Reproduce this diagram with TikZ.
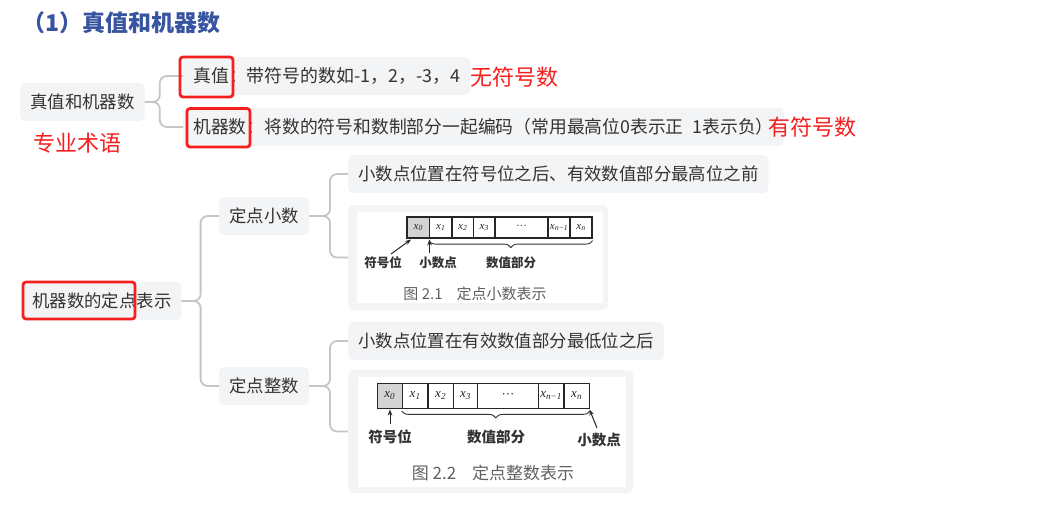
\documentclass[tikz,border=0pt]{standalone}
\usepackage{fontspec}
\setmainfont{Noto Sans CJK SC}
\newfontfamily\serifx{Liberation Serif}
\usetikzlibrary{decorations.pathreplacing,arrows.meta}
\definecolor{boxgray}{RGB}{243,244,246}
\definecolor{lgray}{RGB}{198,198,198}
\definecolor{txt}{RGB}{51,51,51}
\definecolor{redc}{RGB}{245,32,30}
\definecolor{titleblue}{RGB}{56,84,160}
\definecolor{cellgray}{RGB}{212,212,212}
\newcommand{\xsub}[1]{{\serifx\itshape x\textsubscript{#1}}}
\tikzset{
 mmbox/.style={fill=boxgray, rounded corners=5pt, inner xsep=10pt, inner ysep=0pt, minimum height=38pt, text=txt, font=\fontsize{17.4}{20}\selectfont, anchor=west},
 conn/.style={draw=lgray, line width=1.8pt, rounded corners=7pt},
 redframe/.style={draw=redc, line width=2.8pt, rounded corners=3pt},
 redlabel/.style={text=redc, font=\fontsize{22}{26}\selectfont, inner sep=0pt},
 figframe/.style={fill=boxgray, rounded corners=6pt, anchor=west, inner sep=0pt},
 cell/.style={draw=black!85, line width=1.2pt, inner sep=0pt, text=black!85},
 flabel/.style={text=black!80, inner sep=0pt},
 fcap/.style={text=black!62, inner sep=0pt},
 farrow/.style={-{Stealth[length=6pt,width=4.5pt]}, line width=1pt, draw=black!85},
 fbrace/.style={decorate, decoration={brace, mirror, amplitude=7pt}, line width=0.9pt, draw=black!80}
}
\begin{document}
\begin{tikzpicture}[x=1pt,y=-1pt]
\useasboundingbox[fill=white] (0,0) rectangle (1057,507);

% title
\node[anchor=west, inner sep=0pt, text=titleblue, font=\fontsize{23}{27}\selectfont\bfseries] (title) at (22,23) {（1）真值和机器数};

% first tree
\node[mmbox] (root1) at (20,102) {真值和机器数};
\node[mmbox, font=\fontsize{17.9}{20}\selectfont] (tv) at (183,76) {真值：带符号的数如-1，2，-3，4};
\node[mmbox, font=\fontsize{17.8}{20}\selectfont] (jq) at (183,127) {机器数：将数的符号和数制部分一起编码（常用最高位0表示正\hspace{9pt}1表示负）};
\draw[conn] (root1.east) -- ++(15,0) |- (tv.west);
\draw[conn] (root1.east) -- ++(15,0) |- (jq.west);

% second tree
\node[mmbox] (root2) at (22,301) {机器数的定点表示};
\node[mmbox] (dx) at (219,216) {定点小数};
\node[mmbox] (dz) at (219,386) {定点整数};
\node[mmbox] (t1) at (348,174) {小数点位置在符号位之后、有效数值部分最高位之前};
\node[mmbox] (t2) at (348,341) {小数点位置在有效数值部分最低位之后};
\node[figframe, minimum width=260pt, minimum height=105pt] (fig1) at (348,257.5) {};
\node[figframe, minimum width=285pt, minimum height=123pt] (fig2) at (348,431.5) {};
\draw[conn] (root2.east) -- ++(19,0) |- (dx.west);
\draw[conn] (root2.east) -- ++(19,0) |- (dz.west);
\draw[conn] (dx.east) -- ++(21,0) |- (t1.west);
\draw[conn] (dx.east) -- ++(21,0) |- (fig1.west);
\draw[conn] (dz.east) -- ++(21,0) |- (t2.west);
\draw[conn] (dz.east) -- ++(21,0) |- (fig2.west);

% figure 1 contents
\fill[white] (357,212) rectangle (603,303);
\foreach \i/\l/\r/\t in {0/407/429.5/{\xsub{0}},1/429.5/452/{\xsub{1}},2/452/473.5/{\xsub{2}},3/473.5/495/{\xsub{3}},4/495/548/{{\serifx ···}},5/548/570/{\xsub{n−1}},6/570/592/{\xsub{n}}}{
  \node[cell, minimum width={(\r-\l)*1pt}, minimum height=21pt, font=\fontsize{11}{12}\selectfont] (fa\i) at ({(\l+\r)/2},227.5) {\t};
}
\node[cell, fill=cellgray, minimum width=22.5pt, minimum height=21pt, font=\fontsize{11}{12}\selectfont] (fa0g) at (fa0) {\xsub{0}};
\node[flabel, font=\fontsize{12.5}{14}\selectfont\bfseries] (fa-sign) at (383,263) {符号位};
\node[flabel, font=\fontsize{12.5}{14}\selectfont\bfseries] (fa-pt) at (438,263) {小数点};
\node[flabel, font=\fontsize{12.5}{14}\selectfont\bfseries] (fa-val) at (511,263) {数值部分};
\node[fcap, font=\fontsize{15}{17}\selectfont] (fa-cap) at (475,294) {图 2.1\hspace{14pt}定点小数表示};
\coordinate (fa-s1) at (391,254);
\coordinate (fa-e1) at (411,239.5);
\coordinate (fa-s2) at (429.5,253);
\coordinate (fa-e2) at (429.5,239.5);
\draw[farrow] (fa-s1) -- (fa-e1);
\draw[farrow] (fa-s2) -- (fa-e2);
\draw[fbrace] ([yshift=-2pt]fa1.south west) -- ([yshift=-2pt]fa6.south east);

% figure 2 contents
\fill[white] (358,377) rectangle (626,487);
\foreach \i/\l/\r/\t in {0/377.3/402.3/{\xsub{0}},1/402.3/428/{\xsub{1}},2/428/453.3/{\xsub{2}},3/453.3/477.7/{\xsub{3}},4/477.7/538.3/{{\serifx ···}},5/538.3/564/{\xsub{n−1}},6/564/589.3/{\xsub{n}}}{
  \node[cell, minimum width={(\r-\l)*1pt}, minimum height=25pt, font=\fontsize{13}{14}\selectfont] (fb\i) at ({(\l+\r)/2},395.8) {\t};
}
\node[cell, fill=cellgray, minimum width=25pt, minimum height=25pt, font=\fontsize{13}{14}\selectfont] (fb0g) at (fb0) {\xsub{0}};
\node[flabel, font=\fontsize{14.5}{16}\selectfont\bfseries] (fb-sign) at (390,437) {符号位};
\node[flabel, font=\fontsize{14.5}{16}\selectfont\bfseries] (fb-val) at (496,437) {数值部分};
\node[flabel, font=\fontsize{14.5}{16}\selectfont\bfseries] (fb-pt) at (599,440) {小数点};
\node[fcap, font=\fontsize{17}{19}\selectfont] (fb-cap) at (493,473) {图 2.2\hspace{16pt}定点整数表示};
\coordinate (fb-s1) at (390,424);
\coordinate (fb-e1) at (390,409.5);
\coordinate (fb-s2) at (597,428);
\coordinate (fb-e2) at (589.5,409.5);
\draw[farrow] (fb-s1) -- (fb-e1);
\draw[farrow] (fb-s2) -- (fb-e2);
\draw[fbrace] ([yshift=-2pt]fb1.south west) -- ([yshift=-2pt]fb6.south east);

% red annotations
\draw[redframe] (180,57) rectangle (233,97);
\draw[redframe] (187,108.5) rectangle (250,147);
\draw[redframe] (23,282) rectangle (135,319);
\node[redlabel] (wf) at (514,77) {无符号数};
\node[redlabel] (yf) at (812,127) {有符号数};
\node[redlabel] (zy) at (77,143) {专业术语};
\end{tikzpicture}
\end{document}
